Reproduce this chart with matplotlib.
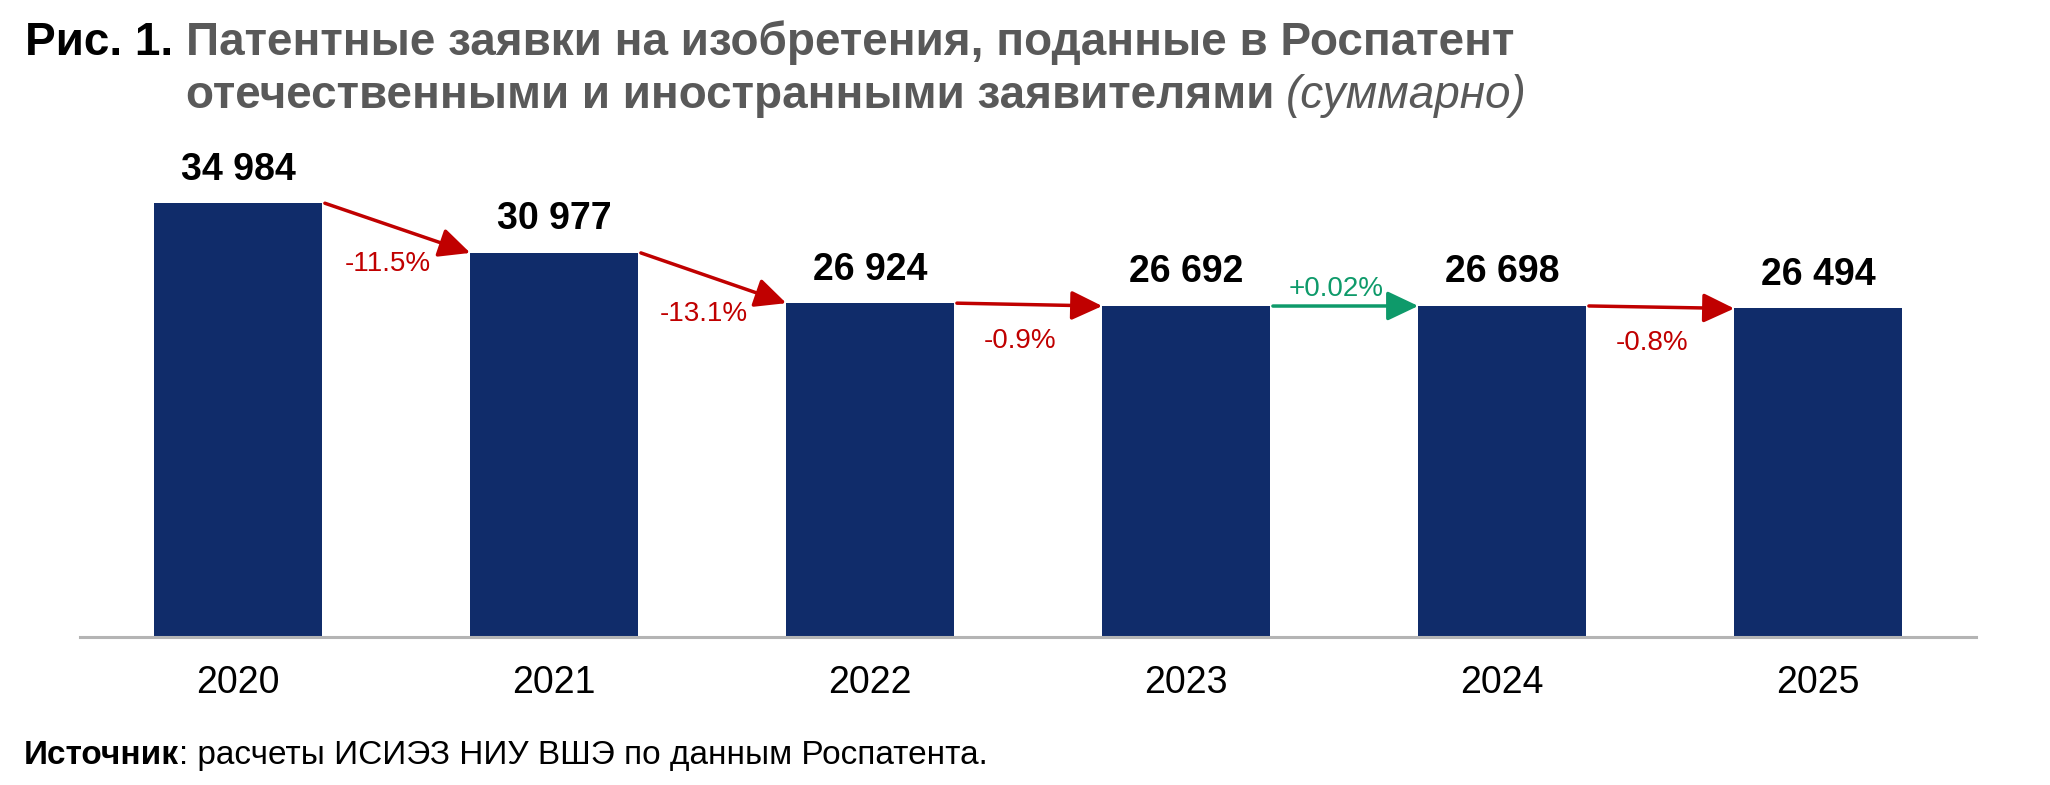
import numpy as np
import matplotlib.pyplot as plt

plt.rcParams['font.family'] = ['Liberation Sans', 'DejaVu Sans']

# данные с рисунка
years = ['2020', '2021', '2022', '2023', '2024', '2025']
values = [34984, 30977, 26924, 26692, 26698, 26494]
change_labels = ['-11.5%', '-13.1%', '-0.9%', '+0.02%', '-0.8%']

title_num = 'Рис. 1. '
title_line1 = 'Патентные заявки на изобретения, поданные в Роспатент'
title_line2 = 'отечественными и иностранными заявителями'
title_note = '(суммарно)'
source_bold = 'Источник'
source_rest = ': расчеты ИСИЭЗ НИУ ВШЭ по данным Роспатента.'

bar_color = '#102C6A'
red = '#C00000'
green = '#0E9A6A'
gray_title = '#595959'

W, H = 2050, 785
fig = plt.figure(figsize=(W / 100, H / 100), dpi=100)
ax = fig.add_axes([80 / W, 1 - 637 / H, 1896 / W, 507 / H])

x = np.arange(len(years))
bw = 0.53
ax.bar(x, values, width=bw, color=bar_color, zorder=2)
ax.set_xlim(-0.5, len(years) - 0.5)
ax.set_ylim(0, 40890)

for s in ['top', 'right', 'left']:
    ax.spines[s].set_visible(False)
ax.spines['bottom'].set_color('#B4B4B4')
ax.spines['bottom'].set_linewidth(2.2)
ax.spines['bottom'].set_zorder(3)
ax.set_yticks([])
ax.set_xticks(x)
ax.set_xticklabels(years, fontsize=27)
ax.tick_params(axis='x', length=0, pad=20)

# подписи значений
for xi, v in zip(x, values):
    ax.annotate('{:,}'.format(v).replace(',', ' '), (xi, v), xytext=(0, 17),
                textcoords='offset points', ha='center', va='baseline',
                fontsize=27, fontweight='bold', color='black')

# стрелки изменения
for i, lab in enumerate(change_labels):
    c = green if lab.startswith('+') else red
    ax.annotate('', xy=(x[i + 1] - bw / 2, values[i + 1]),
                xytext=(x[i] + bw / 2 + 0.01, values[i]),
                arrowprops=dict(arrowstyle='-|>,head_length=0.95,head_width=0.45',
                                mutation_scale=20, lw=2.5, color=c,
                                shrinkA=0, shrinkB=0), zorder=4)
    mid = (values[i] + values[i + 1]) / 2
    dy = 12 if lab.startswith('+') else -26
    ax.annotate(lab, (x[i] + 0.5, mid), xytext=(-6, dy), textcoords='offset points',
                ha='center', va='center', fontsize=20, color=c)

# заголовок
t0 = fig.text(25 / W, 1 - 55 / H, title_num, fontsize=33, fontweight='bold',
              color='black', va='baseline')
fig.canvas.draw()
r = fig.canvas.get_renderer()
e0 = t0.get_window_extent(r)
fig.text(e0.x1 / W, 1 - 55 / H, title_line1, fontsize=33, fontweight='bold',
         color=gray_title, va='baseline')
t2 = fig.text(e0.x1 / W, 1 - 108 / H, title_line2, fontsize=33, fontweight='bold',
              color=gray_title, va='baseline')

# источник
t3 = fig.text(24 / W, 1 - 764 / H, source_bold, fontsize=24, fontweight='bold',
              color='black', va='baseline')

fig.canvas.draw()
e2 = t2.get_window_extent(r)
fig.text((e2.x1 + 12) / W, 1 - 108 / H, title_note, fontsize=33, style='italic',
         color=gray_title, va='baseline')
e3 = t3.get_window_extent(r)
fig.text(e3.x1 / W, 1 - 764 / H, source_rest, fontsize=24, color='black',
         va='baseline')

fig.savefig('out.png', dpi=100)
